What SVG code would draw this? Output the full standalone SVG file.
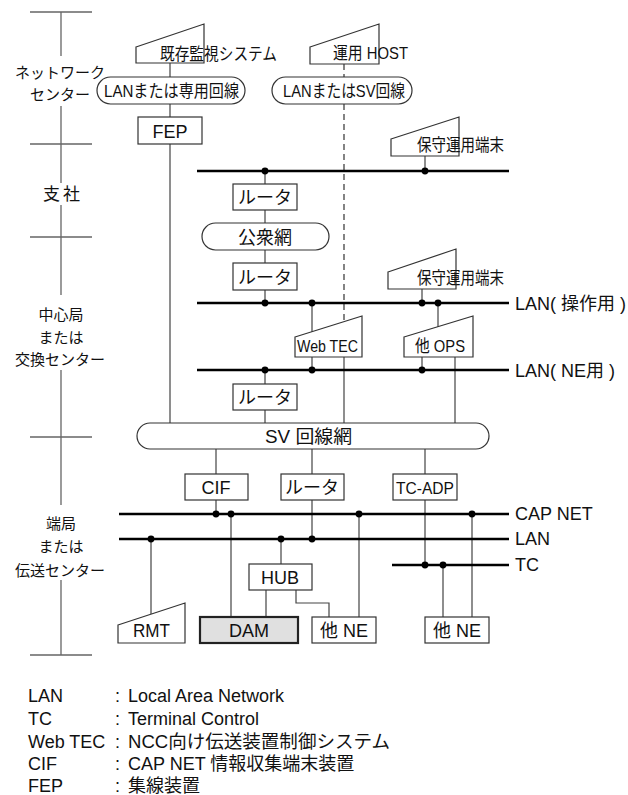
<svg xmlns="http://www.w3.org/2000/svg" width="628" height="795" viewBox="0 0 628 795">
<style>
text{font-family:"Liberation Sans","Noto Sans CJK JP",sans-serif;fill:#111}
.lb{font-size:15px;text-anchor:middle}
.nd{font-size:18px}
.sm{font-size:17px}
.lg{font-size:18px}
.box{fill:#fff;stroke:#333;stroke-width:1.2}
.ax{stroke:#666;stroke-width:1.3;fill:none}
.bus{stroke:#000;stroke-width:2.6;fill:none}
.ln{stroke:#444;stroke-width:1.2;fill:none}
.dash{stroke:#333;stroke-width:1.2;stroke-dasharray:6 4;fill:none}
.dot{fill:#000}
</style>
<rect width="628" height="795" fill="#fff"/>
<g id="axis">
<path class="ax" d="M61 12V56M61 106V183M61 205V295M61 370V505M61 580V655M30 12H92M30 144H92M30 237H92M30 437H92M30 655H92"/>
<text class="lb" x="60" y="78">ネットワーク</text>
<text class="lb" x="60" y="100">センター</text>
<text class="lb" x="43" y="200" style="font-size:17px;text-anchor:start" textLength="37">支社</text>
<text class="lb" x="61" y="320">中心局</text>
<text class="lb" x="61" y="343">または</text>
<text class="lb" x="60" y="365">交換センター</text>
<text class="lb" x="61" y="529">端局</text>
<text class="lb" x="61" y="552">または</text>
<text class="lb" x="60" y="576">伝送センター</text>
</g>
<g id="connectors">
<path class="ln" d="M170 63V77M170 104V117M170 144V423"/>
<path class="dash" d="M344 64V77M344 104V322"/>
<path class="ln" d="M344 357V423"/>
<path class="ln" d="M425 156V171M265 171V184M265 210V223M265 250V263M265 290V303M422 289V303M312 303V332M438 303V327M312 357V370M422 357V370M455 357V423M265 370V384M265 410V423"/>
<path class="ln" d="M216 449V474M312 449V474M425 449V474M216 500V514M231 514V617M312 500V539M425 500V565M151 539V614M281 539V564M266 590V617M296 590V603H329V617M359 514V617M443 565V617M472 514V617"/>
<path class="bus" d="M197 171H509M197 303H509M197 370H509M119 514H509M119 539H509M392 565H509"/>
<g class="dot">
<circle cx="265" cy="171" r="3.4"/><circle cx="425" cy="171" r="3.4"/>
<circle cx="265" cy="303" r="3.4"/><circle cx="312" cy="303" r="3.4"/><circle cx="422" cy="303" r="3.4"/><circle cx="438" cy="303" r="3.4"/>
<circle cx="265" cy="370" r="3.4"/><circle cx="312" cy="370" r="3.4"/><circle cx="422" cy="370" r="3.4"/>
<circle cx="216" cy="514" r="3.4"/><circle cx="231" cy="514" r="3.4"/><circle cx="359" cy="514" r="3.4"/><circle cx="472" cy="514" r="3.4"/>
<circle cx="151" cy="539" r="3.4"/><circle cx="281" cy="539" r="3.4"/><circle cx="312" cy="539" r="3.4"/>
<circle cx="425" cy="565" r="3.4"/><circle cx="443" cy="565" r="3.4"/>
</g>
<text class="nd" x="515" y="310">LAN( 操作用 )</text>
<text class="nd" x="515" y="377">LAN( NE用 )</text>
<text class="nd" x="515" y="520">CAP NET</text>
<text class="nd" x="515" y="545">LAN</text>
<text class="nd" x="515" y="571">TC</text>
</g>
<g id="kison">
<polygon class="box" points="136,47 204,24 204,63 136,63"/>
<text class="sm" x="160" y="60" textLength="117" lengthAdjust="spacingAndGlyphs">既存監視システム</text>
</g>
<g id="host">
<polygon class="box" points="310,47 379,24 379,64 310,64"/>
<text class="sm" x="333" y="59" textLength="75" lengthAdjust="spacingAndGlyphs">運用 HOST</text>
</g>
<g id="pill-lan1">
<rect class="box" x="97" y="77" width="148" height="27" rx="13.5"/>
<text class="sm" x="104" y="97" textLength="135" lengthAdjust="spacingAndGlyphs">LANまたは専用回線</text>
</g>
<g id="pill-lan2">
<rect class="box" x="272" y="77" width="140" height="27" rx="13.5"/>
<text class="sm" x="283" y="97" textLength="122" lengthAdjust="spacingAndGlyphs">LANまたはSV回線</text>
</g>
<g id="fep">
<rect class="box" x="138" y="117" width="64" height="27"/>
<text class="nd" x="170" y="138" text-anchor="middle">FEP</text>
</g>
<g id="hoshu1">
<polygon class="box" points="391,139 459,117 459,156 391,156"/>
<text class="sm" x="417" y="151" textLength="87" lengthAdjust="spacingAndGlyphs">保守運用端末</text>
</g>
<g id="router1">
<rect class="box" x="233" y="184" width="64" height="26"/>
<text class="nd" x="265" y="204" text-anchor="middle">ルータ</text>
</g>
<g id="koshumo">
<rect class="box" x="202" y="223" width="127" height="27" rx="13.5"/>
<text class="nd" x="265" y="244" text-anchor="middle">公衆網</text>
</g>
<g id="router2">
<rect class="box" x="233" y="263" width="64" height="27"/>
<text class="nd" x="265" y="284" text-anchor="middle">ルータ</text>
</g>
<g id="hoshu2">
<polygon class="box" points="388,272 456,249 456,289 388,289"/>
<text class="sm" x="417" y="284" textLength="87" lengthAdjust="spacingAndGlyphs">保守運用端末</text>
</g>
<g id="webtec">
<polygon class="box" points="295,337 362,316 362,357 295,357"/>
<text class="sm" x="297" y="352" textLength="61" lengthAdjust="spacingAndGlyphs">Web TEC</text>
</g>
<g id="ops">
<polygon class="box" points="404,337 473,316 473,357 404,357"/>
<text class="sm" x="415" y="352" textLength="50" lengthAdjust="spacingAndGlyphs">他 OPS</text>
</g>
<g id="router3">
<rect class="box" x="233" y="384" width="64" height="26"/>
<text class="nd" x="265" y="404" text-anchor="middle">ルータ</text>
</g>
<g id="svnet">
<rect class="box" x="137" y="423" width="352" height="26" rx="13"/>
<text class="nd" x="265" y="443" textLength="87" lengthAdjust="spacingAndGlyphs">SV 回線網</text>
</g>
<g id="cif">
<rect class="box" x="185" y="474" width="63" height="26"/>
<text class="nd" x="216" y="494" text-anchor="middle">CIF</text>
</g>
<g id="router4">
<rect class="box" x="281" y="474" width="63" height="26"/>
<text class="nd" x="312" y="494" text-anchor="middle">ルータ</text>
</g>
<g id="tcadp">
<rect class="box" x="393" y="474" width="64" height="26"/>
<text class="sm" x="396" y="494" textLength="58" lengthAdjust="spacingAndGlyphs">TC-ADP</text>
</g>
<g id="hub">
<rect class="box" x="249" y="564" width="63" height="26"/>
<text class="nd" x="280" y="584" text-anchor="middle">HUB</text>
</g>
<g id="rmt">
<polygon class="box" points="118,625 185,603 185,643 118,643"/>
<text class="nd" x="133" y="637" textLength="37" lengthAdjust="spacingAndGlyphs">RMT</text>
</g>
<g id="dam">
<rect x="200" y="617" width="98" height="26" fill="#e0e0e0" stroke="#222" stroke-width="2.2"/>
<text class="nd" x="249" y="637" text-anchor="middle">DAM</text>
</g>
<g id="ne1">
<rect class="box" x="312" y="617" width="64" height="26"/>
<text class="nd" x="344" y="637" text-anchor="middle">他 NE</text>
</g>
<g id="ne2">
<rect class="box" x="425" y="617" width="64" height="26"/>
<text class="nd" x="457" y="637" text-anchor="middle">他 NE</text>
</g>
<g id="legend">
<text class="lg" x="28" y="702">LAN</text><text class="lg" x="115" y="702">:</text><text class="lg" x="128" y="702">Local Area Network</text>
<text class="lg" x="28" y="725">TC</text><text class="lg" x="115" y="725">:</text><text class="lg" x="128" y="725">Terminal Control</text>
<text class="lg" x="28" y="748">Web TEC</text><text class="lg" x="115" y="748">:</text><text class="lg" x="128" y="748" textLength="262" lengthAdjust="spacingAndGlyphs">NCC向け伝送装置制御システム</text>
<text class="lg" x="28" y="770">CIF</text><text class="lg" x="115" y="770">:</text><text class="lg" x="128" y="770">CAP NET 情報収集端末装置</text>
<text class="lg" x="28" y="792">FEP</text><text class="lg" x="115" y="792">:</text><text class="lg" x="128" y="792">集線装置</text>
</g>
</svg>
